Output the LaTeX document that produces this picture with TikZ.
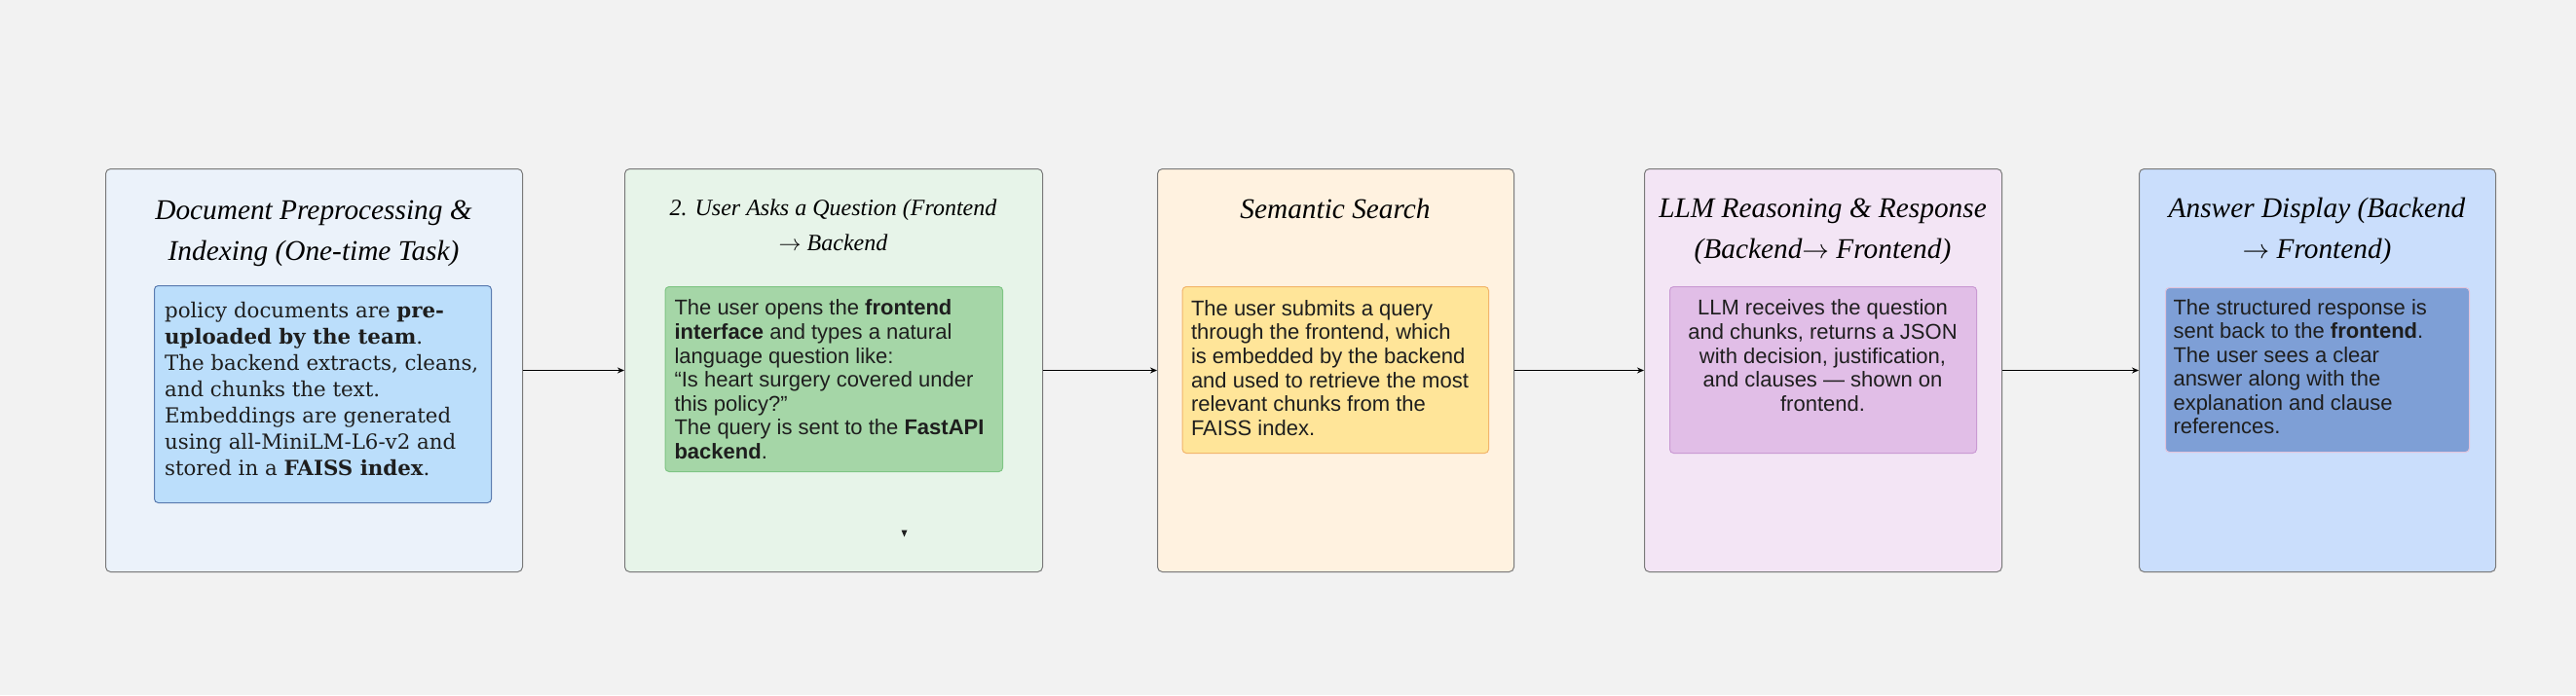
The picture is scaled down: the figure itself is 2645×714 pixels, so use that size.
\documentclass[tikz,border=0pt]{standalone}
\usepackage{fontspec}
\newfontfamily\bodyfont{Liberation Sans}
\newfontfamily\slabfont{DejaVu Serif}
\newfontfamily\handfont{Liberation Serif}
\usetikzlibrary{arrows.meta}

\definecolor{pagegrey}{HTML}{F2F2F2}
\definecolor{framegrey}{HTML}{7A7A7A}
\definecolor{textdark}{HTML}{1E1E1E}
\definecolor{prepfill}{HTML}{EBF2FA}
\definecolor{prepcardfill}{HTML}{BBDEFB}
\definecolor{prepcardline}{HTML}{5A7BB0}
\definecolor{askfill}{HTML}{E7F4E9}
\definecolor{askcardfill}{HTML}{A5D6A7}
\definecolor{askcardline}{HTML}{7FC584}
\definecolor{searchfill}{HTML}{FFF2E0}
\definecolor{searchcardfill}{HTML}{FFE599}
\definecolor{searchcardline}{HTML}{F2B56B}
\definecolor{llmfill}{HTML}{F3E5F5}
\definecolor{llmcardfill}{HTML}{E1BEE7}
\definecolor{llmcardline}{HTML}{CA9AD3}
\definecolor{answerfill}{HTML}{CADEFC}
\definecolor{answercardfill}{HTML}{7E9FD6}
\definecolor{answercardline}{HTML}{E2C4DC}

\tikzset{every picture/.style={line width=0.75pt},
  stagebox/.style={draw=framegrey, rounded corners=3.75pt, anchor=north west, inner sep=0pt, minimum height=310.5pt},
  cardbox/.style={rounded corners=3pt, anchor=north west, inner sep=0pt},
  stagetitle/.style={font=\handfont\fontsize{22}{31.5}\selectfont\itshape, align=center, anchor=north, inner sep=0pt},
  cardtext/.style={font=\bodyfont\fontsize{16.5}{18.4}\selectfont, text=textdark, align=left, anchor=north west, inner sep=0pt},
  flow/.style={-{Stealth[length=5.25pt,width=4.5pt]}, line width=1.1pt}
}

\begin{document}
\begin{tikzpicture}[x=0.75pt,y=0.75pt,yscale=-1,xscale=1]
\useasboundingbox (0,0) rectangle (2645,714);
\fill[pagegrey] (0,0) rectangle (2645,714);

%Shape: Rounded Rect [prep]
\node[stagebox, fill=prepfill, minimum width=321pt] (prep) at (108,173) {};
%Shape: Rounded Rect [ask]
\node[stagebox, fill=askfill, minimum width=321.75pt] (ask) at (641,173) {};
%Shape: Rounded Rect [search]
\node[stagebox, fill=searchfill, minimum width=274.5pt] (search) at (1188,173) {};
%Shape: Rounded Rect [llm]
\node[stagebox, fill=llmfill, minimum width=275.25pt] (llm) at (1688,173) {};
%Shape: Rounded Rect [answer]
\node[stagebox, fill=answerfill, minimum width=274.5pt] (answer) at (2196,173) {};

%Shape: Rounded Rect [cards]
\node[cardbox, draw=prepcardline, fill=prepcardfill, minimum width=259.5pt, minimum height=167.25pt] (prepcard) at (158,293) {};
\node[cardbox, draw=askcardline, fill=askcardfill, minimum width=259.9pt, minimum height=142.5pt] (askcard) at (682.5,294) {};
\node[cardbox, draw=searchcardline, fill=searchcardfill, minimum width=235.8pt, minimum height=128.25pt] (searchcard) at (1213.6,294) {};
\node[cardbox, draw=llmcardline, fill=llmcardfill, minimum width=236.25pt, minimum height=128.25pt] (llmcard) at (1714,294) {};
\node[cardbox, draw=answercardline, fill=answercardfill, minimum width=234pt, minimum height=126.75pt] (answercard) at (2223,295) {};

%Straight Lines [flow]
\draw[flow] (prep.east) -- (ask.west);
\draw[flow] (ask.east) -- (search.west);
\draw[flow] (search.east) -- (llm.west);
\draw[flow] (llm.east) -- (answer.west);

%Shape: Triangle [stray tip]
\fill[textdark] (925.5,544.5) -- (931.5,544.5) -- (928.5,551.5) -- cycle;

% Text Node
\node[stagetitle] (preptitle) at (322,205) {Document Preprocessing \&\\Indexing (One-time Task)};
% Text Node
\node[stagetitle, font=\handfont\fontsize{18}{27}\selectfont\itshape] (asktitle) at (855.5,204) {2. User Asks a Question (Frontend\\$\rightarrow$ Backend};
% Text Node
\node[stagetitle] (searchtitle) at (1371,204) {Semantic Search};
% Text Node
\node[stagetitle] (llmtitle) at (1871.5,203) {LLM Reasoning \& Response\\(Backend$\rightarrow$ Frontend)};
% Text Node
\node[stagetitle] (answertitle) at (2379,203) {Answer Display (Backend\\$\rightarrow$ Frontend)};

% Text Node
\node[cardtext, font=\slabfont\fontsize{16}{20.25}\selectfont] (preptext) at (168.6,310) {policy documents are \textbf{pre-}\\\textbf{uploaded by the team}.\\The backend extracts, cleans,\\and chunks the text.\\Embeddings are generated\\using all-MiniLM-L6-v2 and\\stored in a \textbf{FAISS index}.};
% Text Node
\node[cardtext] (asktext) at (692,307.5) {The user opens the \textbf{frontend}\\\textbf{interface} and types a natural\\language question like:\\“Is heart surgery covered under\\this policy?”\\The query is sent to the \textbf{FastAPI}\\\textbf{backend}.};
% Text Node
\node[cardtext] (searchtext) at (1222.5,308) {The user submits a query\\through the frontend, which\\is embedded by the backend\\and used to retrieve the most\\relevant chunks from the\\FAISS index.};
% Text Node
\node[cardtext, align=center, anchor=north] (llmtext) at (1871.5,307.5) {LLM receives the question\\and chunks, returns a JSON\\with decision, justification,\\and clauses — shown on\\frontend.};
% Text Node
\node[cardtext] (answertext) at (2231,306.7) {The structured response is\\sent back to the \textbf{frontend}.\\The user sees a clear\\answer along with the\\explanation and clause\\references.};

\end{tikzpicture}
\end{document}
